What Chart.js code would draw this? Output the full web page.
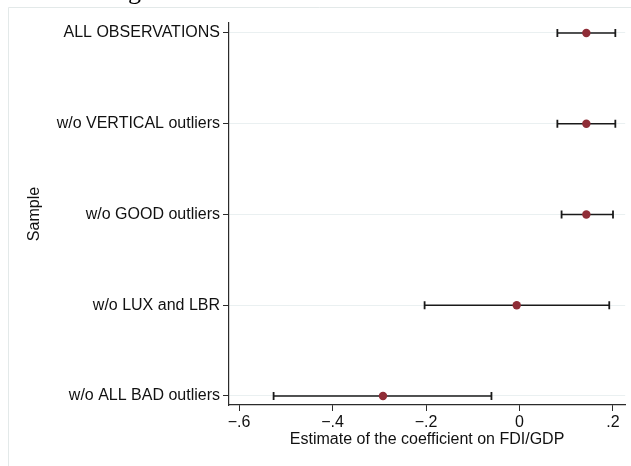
<!DOCTYPE html>
<html>
<head>
<meta charset="utf-8">
<script src="https://cdn.jsdelivr.net/npm/chart.js@4.4.1/dist/chart.umd.min.js"></script>
<style>
html,body{margin:0;padding:0;background:#fff;}
#wrap{width:631px;height:466px;position:relative;}
</style>
</head>
<body>
<div id="wrap"><canvas id="c" width="631" height="466"></canvas></div>
<script>
// Data
const samples = ["ALL OBSERVATIONS", "w/o VERTICAL outliers", "w/o GOOD outliers", "w/o LUX and LBR", "w/o ALL BAD outliers"];
const estimates = [0.143, 0.143, 0.143, -0.006, -0.292];
const ciLow = [0.081, 0.081, 0.090, -0.203, -0.526];
const ciHigh = [0.205, 0.205, 0.200, 0.192, -0.060];
const xTickValues = [-0.6, -0.4, -0.2, 0, 0.2];
const xTickLabels = ["\u2212.6", "\u2212.4", "\u2212.2", "0", ".2"];

const FONT = "'Liberation Sans', Arial, Helvetica, sans-serif";
const dark = "#2b2b2b";

const datasets = [];
samples.forEach((s, i) => {
  datasets.push({
    type: 'line',
    data: [{x: ciLow[i], y: i + 1}, {x: ciHigh[i], y: i + 1}],
    borderColor: '#1a1a1a',
    borderWidth: 1.6,
    pointStyle: 'line',
    pointRotation: 90,
    pointRadius: 4,
    pointBorderColor: '#1a1a1a',
    pointBorderWidth: 1.8,
    pointHoverRadius: 4,
    fill: false,
    order: 2
  });
});
datasets.push({
  type: 'scatter',
  data: estimates.map((v, i) => ({x: v, y: i + 1})),
  backgroundColor: '#8f2d37',
  borderColor: '#8f2d37',
  pointRadius: 4.2,
  borderWidth: 0,
  order: 1
});

const framePlugin = {
  id: 'frame',
  beforeDraw(chart) {
    const ctx = chart.ctx;
    ctx.save();
    ctx.fillStyle = '#fff';
    ctx.fillRect(0, 0, chart.width, chart.height);
    ctx.strokeStyle = '#e3e9e9';
    ctx.lineWidth = 1;
    ctx.beginPath();
    ctx.moveTo(8.5, chart.height);
    ctx.lineTo(8.5, 7.5);
    ctx.lineTo(chart.width, 7.5);
    ctx.stroke();
    ctx.fillStyle = '#000';
    ctx.font = "26px 'Liberation Serif', 'Times New Roman', serif";
    ctx.textAlign = 'right';
    ctx.textBaseline = 'alphabetic';
    ctx.fillText('ng', 141, -1);
    ctx.restore();
  }
};

new Chart(document.getElementById('c'), {
  type: 'scatter',
  data: {datasets},
  plugins: [framePlugin],
  options: {
    responsive: false,
    animation: false,
    devicePixelRatio: 1,
    layout: {padding: {left: 0, top: 23, right: 2, bottom: 0}},
    plugins: {legend: {display: false}, tooltip: {enabled: false}},
    scales: {
      x: {
        type: 'linear',
        min: -0.6214,
        max: 0.2261,
        afterBuildTicks(scale) { scale.ticks = xTickValues.map(v => ({value: v})); },
        afterFit(scale) { scale.height = 61; },
        ticks: {
          color: '#111',
          font: {family: FONT, size: 16},
          padding: 2,
          maxRotation: 0,
          autoSkip: false,
          callback(v) { const k = xTickValues.findIndex(t => Math.abs(t - v) < 1e-9); return k >= 0 ? xTickLabels[k] : ''; }
        },
        grid: {drawOnChartArea: false, drawTicks: true, tickLength: 6, tickColor: dark, tickWidth: 1},
        border: {display: true, color: dark, width: 1.2},
        title: {display: true, text: 'Estimate of the coefficient on FDI/GDP', color: '#111', font: {family: FONT, size: 16}, padding: {top: 0, bottom: 17}}
      },
      y: {
        type: 'linear',
        reverse: true,
        min: 0.89,
        max: 5.1,
        afterBuildTicks(scale) { scale.ticks = samples.map((s, i) => ({value: i + 1})); },
        afterFit(scale) { scale.width = 229; },
        ticks: {
          color: '#111',
          font: {family: FONT, size: 16},
          padding: 3,
          autoSkip: false,
          callback(v) { const k = Math.round(v) - 1; return samples[k] || ''; }
        },
        grid: {drawOnChartArea: true, color: '#eaf0f1', lineWidth: 1, drawTicks: true, tickLength: 6, tickColor: dark, tickWidth: 1},
        border: {display: true, color: dark, width: 1.2},
        title: {display: true, text: 'Sample', color: '#111', font: {family: FONT, size: 16}, padding: {top: 25, bottom: 0}}
      }
    }
  }
});
</script>
</body>
</html>
